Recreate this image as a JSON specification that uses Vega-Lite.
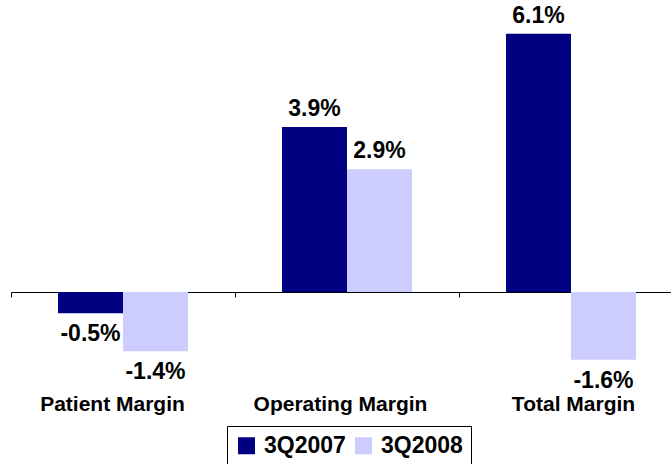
{
  "$schema": "https://vega.github.io/schema/vega-lite/v6.json",
  "width": 660,
  "height": 419,
  "autosize": "none",
  "padding": {"left": 11, "top": 0, "right": 0, "bottom": 45},
  "config": {
    "view": {"stroke": null},
    "font": "Liberation Sans",
    "locale": {"number": {"decimal": ".", "thousands": ",", "grouping": [3], "currency": ["$", ""], "minus": "-"}}
  },
  "data": {
    "values": [
      {"metric": "Patient Margin", "period": "3Q2007", "value": -0.005},
      {"metric": "Patient Margin", "period": "3Q2008", "value": -0.014},
      {"metric": "Operating Margin", "period": "3Q2007", "value": 0.039},
      {"metric": "Operating Margin", "period": "3Q2008", "value": 0.029},
      {"metric": "Total Margin", "period": "3Q2007", "value": 0.061},
      {"metric": "Total Margin", "period": "3Q2008", "value": -0.016}
    ]
  },
  "encoding": {
    "x": {
      "field": "metric",
      "type": "nominal",
      "sort": ["Patient Margin", "Operating Margin", "Total Margin"],
      "scale": {"range": [0, 672], "paddingInner": 0, "paddingOuter": 0},
      "axis": {
        "title": null,
        "orient": "bottom",
        "offset": -127,
        "domainColor": "#000000",
        "domainWidth": 1,
        "tickColor": "#000000",
        "tickSize": 5,
        "tickBand": "extent",
        "labelFont": "Liberation Sans",
        "labelFontWeight": "bold",
        "labelFontSize": 21,
        "labelColor": "#000000",
        "labelPadding": 113,
        "labelBaseline": "alphabetic",
        "labelAngle": 0,
        "labelOffset": {"expr": "datum.value === 'Patient Margin' ? -11 : datum.value === 'Operating Margin' ? -7 : 2"},
        "grid": false
      }
    },
    "xOffset": {
      "field": "period",
      "type": "nominal",
      "scale": {"paddingOuter": 0.723, "paddingInner": 0}
    },
    "y": {
      "field": "value",
      "type": "quantitative",
      "scale": {"domain": [-0.03, 0.069], "nice": false, "zero": false},
      "axis": null
    }
  },
  "layer": [
    {
      "mark": {"type": "bar"},
      "encoding": {
        "color": {
          "field": "period",
          "type": "nominal",
          "scale": {"domain": ["3Q2007", "3Q2008"], "range": ["#000080", "#CCCCFF"]},
          "legend": {
            "title": null,
            "orient": "none",
            "legendX": 216,
            "legendY": 426,
            "direction": "horizontal",
            "symbolType": "square",
            "symbolSize": 289,
            "symbolStrokeWidth": 0,
            "symbolOpacity": 1,
            "labelFont": "Liberation Sans",
            "labelFontWeight": "bold",
            "labelFontSize": 23,
            "labelColor": "#000000",
            "labelOffset": 6,
            "columnPadding": 6,
            "padding": 8,
            "strokeColor": "#000000"
          }
        }
      }
    },
    {
      "transform": [{"filter": "datum.value >= 0"}],
      "mark": {"type": "text", "dy": -11, "baseline": "alphabetic", "align": "center", "font": "Liberation Sans", "fontWeight": "bold", "fontSize": 23, "color": "#000000"},
      "encoding": {"text": {"field": "value", "type": "quantitative", "format": ".1%"}}
    },
    {
      "transform": [{"filter": "datum.value < 0"}],
      "mark": {"type": "text", "dy": 28, "baseline": "alphabetic", "align": "center", "font": "Liberation Sans", "fontWeight": "bold", "fontSize": 23, "color": "#000000"},
      "encoding": {"text": {"field": "value", "type": "quantitative", "format": ".1%"}}
    }
  ]
}
